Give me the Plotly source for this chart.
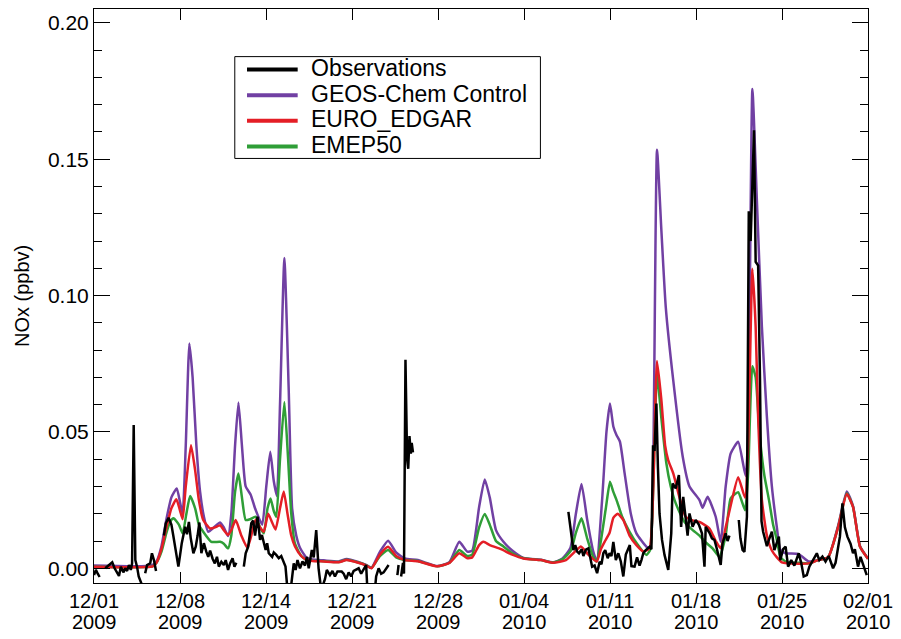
import datetime as dt
import plotly.graph_objects as go

# ---------------- data (day offsets from 2009-12-01 00:00, NOx in ppbv) ----------------
ctrl_days = [0, 4.6, 5.0, 5.4, 5.8, 6.2, 6.63, 6.9, 7.1, 7.35, 7.64, 7.9, 8.2, 8.5, 8.8, 9.15, 9.6, 10.1, 10.4, 10.74,
             11.0, 11.3, 11.57, 11.85, 12.15, 12.55, 12.9, 13.47, 13.8, 14.12, 14.4, 14.65, 14.9, 15.25, 15.6, 15.87,
             16.2, 16.5, 17.0, 17.5, 18.4, 19.6, 20.24, 21.17, 21.8, 22.23, 22.9, 23.56, 24.2, 24.9, 25.94, 27.5,
             28.47, 29.26, 29.9, 30.3, 30.85, 31.3, 31.7, 32.2, 32.8, 33.5, 34.4, 35.8, 36.8, 37.5, 38.15, 38.6,
             39.05, 39.5, 40.0, 40.27, 40.7, 41.05, 41.33, 41.6, 41.86, 42.13, 42.5, 43.0, 43.45, 44.25, 44.55, 44.8,
             45.1, 45.45, 45.8, 46.4, 47.16, 47.7, 48.5, 48.75, 49.15, 49.8, 50.2, 50.6, 51.0, 51.6, 52.2, 52.4,
             52.74, 53.1, 53.5, 53.9, 54.3, 54.7, 54.97, 55.4, 56.45, 57.25, 58.0, 58.8, 59.6, 60.3, 60.8, 61.36, 62.0]
ctrl_vals = [0.0010, 0.0010, 0.0025, 0.008, 0.018, 0.026, 0.0293, 0.024, 0.0200, 0.045, 0.0824, 0.070, 0.045, 0.028,
             0.019, 0.0134, 0.015, 0.0168, 0.015, 0.0118, 0.020, 0.045, 0.0608, 0.045, 0.030, 0.0270, 0.022, 0.0160,
             0.030, 0.0427, 0.032, 0.0265, 0.060, 0.1138, 0.065, 0.022, 0.012, 0.0075, 0.0040, 0.0032, 0.0029, 0.0025,
             0.0034, 0.0023, 0.0012, 0.0002, 0.0060, 0.0101, 0.0058, 0.0036, 0.0030, 0.0008, 0.0022, 0.0097, 0.0061,
             0.0065, 0.0225, 0.0326, 0.026, 0.014, 0.0097, 0.0065, 0.0038, 0.0031, 0.0022, 0.0035, 0.0073, 0.020,
             0.0309, 0.018, 0.006, 0.0026, 0.025, 0.050, 0.0604, 0.052, 0.0488, 0.0464, 0.035, 0.020, 0.0128, 0.0079,
             0.0073, 0.040, 0.1535, 0.1238, 0.0958, 0.0689, 0.0409, 0.0300, 0.0250, 0.0222, 0.0262, 0.0189, 0.0097,
             0.030, 0.0421, 0.0464, 0.0338, 0.050, 0.1758, 0.1348, 0.0886, 0.0556, 0.0300, 0.0150, 0.0068, 0.0055,
             0.0052, 0.0025, 0.0030, 0.0040, 0.0155, 0.0282, 0.0228, 0.0082, 0.0035]

edgar_days = [0, 4.7, 5.0, 5.4, 5.8, 6.2, 6.6, 6.9, 7.1, 7.35, 7.77, 8.1, 8.4, 8.75, 9.3, 9.7, 10.1, 10.4, 10.74, 11.0,
              11.35, 11.8, 12.28, 12.6, 12.94, 13.3, 13.6, 13.95, 14.25, 14.54, 14.9, 15.2, 15.5, 15.8, 16.1, 16.6,
              17.06, 17.5, 18.4, 19.6, 20.24, 21.17, 21.8, 22.23, 22.9, 23.56, 24.2, 24.9, 25.94, 27.5, 28.47, 29.26,
              29.9, 30.3, 30.85, 31.2, 31.7, 32.6, 33.5, 34.4, 35.8, 36.8, 37.8, 38.5, 39.0, 39.6, 40.27, 40.6, 40.9,
              41.3, 41.6, 41.95, 42.4, 42.9, 43.45, 44.0, 44.5, 44.8, 45.1, 45.45, 45.75, 46.0, 46.4, 46.9, 47.4,
              48.0, 48.5, 49.3, 49.8, 50.2, 50.6, 51.0, 51.6, 52.15, 52.4, 52.74, 53.0, 53.2, 53.5, 53.9, 54.3,
              54.7, 55.1, 56.45, 57.25, 58.0, 58.8, 59.6, 60.3, 60.8, 61.36, 62.0]
edgar_vals = [0.0006, 0.0007, 0.002, 0.007, 0.015, 0.022, 0.0253, 0.021, 0.0180, 0.030, 0.0451, 0.036, 0.025, 0.0177,
              0.0146, 0.015, 0.0158, 0.014, 0.0122, 0.014, 0.0177, 0.012, 0.0075, 0.012, 0.0177, 0.015, 0.0134, 0.0200,
              0.017, 0.0142, 0.022, 0.0282, 0.020, 0.012, 0.0080, 0.0045, 0.0030, 0.0027, 0.0025, 0.0022, 0.0030,
              0.0020, 0.0010, 0.0000, 0.0050, 0.0079, 0.0045, 0.0030, 0.0026, 0.0007, 0.0020, 0.0055, 0.0037, 0.0040,
              0.0085, 0.0097, 0.0085, 0.0070, 0.0050, 0.0036, 0.0030, 0.0020, 0.0030, 0.0060, 0.0080, 0.0050, 0.0025,
              0.0070, 0.0097, 0.0130, 0.0185, 0.0200, 0.0177, 0.0120, 0.0085, 0.0062, 0.0073, 0.030, 0.0760, 0.0616,
              0.045, 0.0396, 0.0348, 0.026, 0.0189, 0.0175, 0.0170, 0.0146, 0.0100, 0.0073, 0.015, 0.023, 0.0334,
              0.0259, 0.045, 0.1098, 0.0886, 0.0556, 0.0250, 0.0120, 0.0065, 0.0040, 0.0022, 0.0017, 0.0018, 0.0030,
              0.0040, 0.0150, 0.0272, 0.0225, 0.0079, 0.0035]

emep_days = [0, 4.7, 5.0, 5.4, 5.8, 6.1, 6.37, 6.8, 7.1, 7.4, 7.7, 8.1, 8.4, 8.75, 9.4, 10.1, 10.4, 10.74, 11.0, 11.3,
             11.57, 11.85, 12.15, 12.5, 12.94, 13.3, 13.6, 13.9, 14.14, 14.4, 14.6, 14.9, 15.25, 15.55, 15.8, 16.1,
             16.6, 17.06, 17.5, 18.4, 19.6, 20.24, 21.17, 21.8, 22.23, 22.9, 23.56, 24.2, 24.9, 25.94, 27.5, 28.47,
             29.26, 29.9, 30.3, 30.85, 31.3, 31.7, 32.2, 32.8, 33.5, 34.4, 35.8, 36.8, 37.6, 38.2, 38.6, 39.05, 39.5,
             40.0, 40.27, 40.6, 41.0, 41.33, 41.6, 41.86, 42.3, 42.9, 43.5, 44.25, 44.55, 44.8, 45.1, 45.45, 45.85,
             46.2, 46.6, 47.3, 47.96, 48.5, 49.0, 49.55, 50.1, 50.6, 51.0, 51.6, 52.15, 52.4, 52.74, 53.0, 53.3,
             53.7, 54.07, 54.4, 54.7, 55.0, 55.5, 56.45, 57.25, 58.0, 58.8, 59.6, 60.3, 60.8, 61.36, 62.0]
emep_vals = [0.0006, 0.0007, 0.002, 0.006, 0.013, 0.017, 0.0183, 0.016, 0.0128, 0.020, 0.0265, 0.022, 0.016, 0.0134,
             0.0097, 0.0097, 0.009, 0.0073, 0.012, 0.028, 0.0348, 0.026, 0.0177, 0.018, 0.0189, 0.015, 0.0128, 0.022,
             0.0256, 0.021, 0.0189, 0.040, 0.0610, 0.040, 0.020, 0.0090, 0.0045, 0.0030, 0.0028, 0.0026, 0.0023,
             0.0031, 0.0021, 0.0011, 0.0001, 0.0045, 0.0067, 0.0040, 0.0030, 0.0027, 0.0007, 0.0020, 0.0067, 0.0045,
             0.0050, 0.0150, 0.0199, 0.0160, 0.0100, 0.0080, 0.0055, 0.0037, 0.0030, 0.0021, 0.0035, 0.0065, 0.0130,
             0.0183, 0.0110, 0.0040, 0.0025, 0.010, 0.022, 0.0317, 0.028, 0.0250, 0.019, 0.0134, 0.0090, 0.0049,
             0.0068, 0.030, 0.0714, 0.055, 0.0384, 0.030, 0.0238, 0.017, 0.0140, 0.0120, 0.0095, 0.0073, 0.0042,
             0.012, 0.0256, 0.0279, 0.0213, 0.035, 0.0741, 0.070, 0.050, 0.034, 0.025, 0.016, 0.0104, 0.0040, 0.0022,
             0.0020, 0.0018, 0.0030, 0.0040, 0.0150, 0.0275, 0.0225, 0.0079, 0.0035]

obs_days = [0.0, 0.15, 0.3, 0.45, 0.6, 0.9, 1.1, 1.3, 1.46, 1.65, 1.85, 2.0, 2.15, 2.35, 2.5, 2.65, 2.8, 2.95, 3.05,
            3.18, 3.31, 3.45, 3.58, 3.8, 3.95, 4.1, 4.25, 4.5, 4.64, 4.8, 4.9, 4.97, 5.3, 5.6, 5.75, 5.97, 6.2, 6.35,
            6.5, 6.76, 6.9, 7.03, 7.3, 7.45, 7.6, 7.75, 7.96, 8.15, 8.3, 8.44, 8.6, 8.8, 9.0, 9.15, 9.3, 9.5, 9.68,
            9.85, 10.0, 10.2, 10.4, 10.55, 10.74, 10.9, 11.1, 11.25, 11.4, 11.7, 12.0, 12.15, 12.35, 12.6, 12.75,
            12.9, 13.1, 13.3, 13.45, 13.6, 13.75, 13.87, 14.0, 14.27, 14.4, 14.6, 14.8, 15.0, 15.2, 15.34, 15.5,
            15.75, 16.0, 16.15, 16.3, 16.5, 16.7, 16.9, 17.06, 17.2, 17.45, 17.6, 17.8, 17.99, 18.2, 18.5, 18.65,
            18.9, 19.1, 19.3, 19.5, 19.84, 20.0, 20.2, 20.4, 20.6, 20.8, 21.0, 21.2, 21.4, 21.6, 21.8, 21.9, 22.2,
            22.5, 22.6, 22.8, 23.0, 23.2, 23.4, 23.6, 23.9, 24.3, 24.4, 24.5, 24.6, 24.75, 24.83, 24.95, 25.08,
            25.17, 25.27, 25.38, 25.45, 25.55, 30.0,
            38.0, 38.15, 38.33, 38.4, 38.55, 38.7, 38.85, 39.07, 39.2, 39.4, 39.6, 39.75, 39.9, 40.1, 40.3, 40.5,
            40.65, 40.8, 40.95, 41.15, 41.3, 41.45, 41.6, 41.8, 42.0, 42.2, 42.4, 42.6, 42.92, 43.05, 43.3, 43.5,
            43.7, 43.85, 44.0, 44.2, 44.5, 44.65, 44.78, 44.9, 45.05, 45.17, 45.3, 45.5, 45.7, 46.0, 46.24, 46.35,
            46.6, 46.85, 47.03, 47.2, 47.4, 47.55, 47.7, 47.95, 48.2, 48.45, 48.7, 48.9, 49.0, 49.3, 49.5, 49.7,
            49.9, 50.2, 50.35, 50.6, 50.75, 50.9, 51.3, 51.65, 51.78, 51.95, 52.1, 52.3, 52.45, 52.6, 52.87, 53.0,
            53.2, 53.35, 53.47, 53.6, 53.75, 53.9, 54.06, 54.3, 54.5, 54.86, 54.97, 55.2, 55.4, 55.6, 55.85, 56.1,
            56.45, 56.65, 56.85, 57.1, 57.3, 57.6, 57.9, 58.1, 58.35, 58.6, 58.85, 59.2, 59.4, 59.75, 59.95, 60.15,
            60.35, 60.6, 60.8, 60.95, 61.2, 61.4, 61.6, 61.9]
obs_vals = [-0.0025, -0.0006, -0.002, -0.0032, None, 0.0, 0.0008, 0.0015, 0.0022, 0.0, -0.0015, -0.0028, 0.0006,
            -0.0015, 0.0, -0.001, 0.0012, -0.0006, 0.0018, 0.0525, 0.003, 0.0005, -0.003, -0.0056, None, -0.0018,
            0.0012, 0.0018, 0.0055, 0.003, 0.0012, -0.001, None, 0.012, 0.0165, 0.0185, 0.016, 0.012, 0.0079, 0.0006,
            0.005, 0.0092, 0.0152, 0.0125, 0.017, 0.011, 0.0055, 0.0079, 0.012, 0.0168, 0.0055, 0.0092, 0.006,
            0.0042, 0.0065, 0.0035, 0.0018, 0.0042, 0.0006, 0.0024, 0.0012, 0.003, -0.0006, 0.0018, 0.0037, 0.0006,
            0.002, None, 0.0006, 0.0055, 0.0079, 0.0165, 0.0175, 0.012, 0.0189, 0.0104, 0.0122, 0.0092, 0.0067,
            0.0092, 0.0055, 0.0042, 0.0058, 0.0049, 0.0037, 0.0045, 0.0018, 0.0006, -0.008, -0.008, 0.0018, -0.0006,
            0.003, 0.0, 0.0025, 0.001, 0.0042, 0.0, 0.0067, 0.004, 0.014, 0.0, -0.008, -0.004, -0.0006, -0.0025,
            -0.001, -0.003, -0.0012, -0.0012, -0.002, -0.004, -0.0015, -0.003, -0.001, -0.0006, 0.0, -0.002,
            -0.0005, 0.0012, -0.008, None, -0.008, -0.003, 0.0, -0.002, -0.0015, 0.0, 0.0012, None, -0.0025, 0.0012,
            None, -0.003, 0.002, -0.002, 0.0765, 0.040, 0.0365, 0.0485, 0.042, 0.046, 0.0425, None,
            0.0207, 0.0150, 0.0104, 0.0067, 0.0085, 0.0061, 0.0055, 0.0070, 0.0045, 0.0068, 0.0073, 0.0035, 0.0006,
            0.001, -0.0018, 0.0024, 0.0015, 0.0055, 0.0067, 0.0037, 0.0055, 0.0045, 0.0097, 0.003, 0.0055, 0.0025,
            -0.003, 0.005, 0.0085, 0.0008, 0.0006, 0.004, 0.0010, 0.003, 0.0055, 0.0067, 0.0079, 0.007, 0.0451,
            0.043, 0.0604, 0.0372, 0.020, 0.0104, 0.0049, -0.0006, 0.0128, 0.0311, 0.0293, 0.0342, 0.0152, 0.0262,
            0.0177, 0.0120, 0.0201, 0.0152, 0.0177, 0.0160, 0.0128, 0.0006, 0.0152, 0.0130, 0.0110, 0.0104, 0.0070,
            0.0012, 0.0092, 0.0128, 0.0100, 0.0120, None, 0.0177, 0.0110, 0.0067, 0.0060, 0.0189, 0.1309, 0.120,
            0.1606, 0.1124, 0.111, 0.069, 0.0173, 0.0134, 0.011, 0.0081, 0.0104, 0.0134, 0.0067, 0.0116, 0.003,
            0.0070, 0.0079, 0.0006, 0.0030, 0.0010, 0.0055, 0.0020, -0.003, -0.0025, 0.0006, 0.0030, 0.0055, 0.0030,
            0.0043, 0.0025, 0.0045, 0.0, 0.0020, 0.0116, 0.0238, 0.0150, 0.0116, 0.0090, 0.0055, 0.0070, 0.0006,
            0.0042, 0.0015, -0.0025]

tick_labels = ["12/01", "12/08", "12/14", "12/21", "12/28", "01/04", "01/11", "01/18", "01/25", "02/01"]
tick_years = ["2009", "2009", "2009", "2009", "2009", "2010", "2010", "2010", "2010", "2010"]
series_names = ["Observations", "GEOS-Chem Control", "EURO_EDGAR", "EMEP50"]
series_colors = ["#000000", "#7140A3", "#E41E26", "#2F9E37"]

# ---------------- helpers ----------------
BASE = dt.datetime(2009, 12, 1)


def to_dates(days):
    return [BASE + dt.timedelta(days=d) for d in days]


FONT = "Liberation Sans, Arial, Helvetica, sans-serif"
W, H = 901, 639
L, R, T, B = 94, 28, 8, 56
PW, PH = W - L - R, H - T - B


def px_x(px):
    return (px - L) / PW


def px_y(py):
    return (H - B - py) / PH


fig = go.Figure()
fig.add_trace(go.Scatter(x=to_dates(ctrl_days), y=ctrl_vals, mode="lines", name=series_names[1],
                         line=dict(color=series_colors[1], width=2.5, shape="spline", smoothing=0.5)))
fig.add_trace(go.Scatter(x=to_dates(emep_days), y=emep_vals, mode="lines", name=series_names[3],
                         line=dict(color=series_colors[3], width=2.5, shape="spline", smoothing=0.5)))
fig.add_trace(go.Scatter(x=to_dates(edgar_days), y=edgar_vals, mode="lines", name=series_names[2],
                         line=dict(color=series_colors[2], width=2.5, shape="spline", smoothing=0.5)))
fig.add_trace(go.Scatter(x=to_dates(obs_days), y=obs_vals, mode="lines", name=series_names[0],
                         connectgaps=False, line=dict(color=series_colors[0], width=2.5)))

n_ticks = len(tick_labels)
span = 62.0
tick_days = [k * span / (n_ticks - 1) for k in range(n_ticks)]
tick_dates = to_dates(tick_days)

fig.update_layout(
    width=W, height=H, margin=dict(l=L, r=R, t=T, b=B),
    paper_bgcolor="white", plot_bgcolor="white", showlegend=False,
    font=dict(family=FONT, size=20, color="black"),
    xaxis=dict(type="date", range=[BASE, BASE + dt.timedelta(days=span)],
               tickmode="array", tickvals=tick_dates, ticktext=tick_labels, tickangle=0,
               ticks="inside", ticklen=11, tickwidth=1, tickcolor="black",
               showline=True, linecolor="black", linewidth=1, mirror="ticks",
               showgrid=False, zeroline=False, tickfont=dict(size=20)),
    yaxis=dict(range=[-0.0054, 0.2051], tick0=0, dtick=0.05, tickformat=".2f",
               ticks="inside", ticklen=16, tickwidth=1, tickcolor="black",
               minor=dict(dtick=0.01, tick0=0, ticks="inside", ticklen=8, tickcolor="black", showgrid=False),
               showline=True, linecolor="black", linewidth=1, mirror="ticks",
               showgrid=False, zeroline=False, tickfont=dict(size=21)),
)

annotations = []
for d, yr in zip(tick_dates, tick_years):
    annotations.append(dict(x=d, xref="x", y=px_y(622), yref="paper", text=yr, showarrow=False,
                            xanchor="center", yanchor="middle", font=dict(size=20, family=FONT)))
annotations.append(dict(x=px_x(21), xref="paper", y=px_y(295), yref="paper", text="NOx (ppbv)",
                        textangle=-90, showarrow=False, xanchor="center", yanchor="middle",
                        font=dict(size=20, family=FONT)))

# legend box (drawn manually to mimic the original)
shapes = [dict(type="rect", xref="paper", yref="paper", x0=px_x(235.7), x1=px_x(543.3),
               y0=px_y(157.7), y1=px_y(55.7), line=dict(color="black", width=1), fillcolor="white", layer="above")]
legend_rows = [68.5, 94.3, 120.0, 145.7]
for name, color, ly in zip(series_names, series_colors, legend_rows):
    shapes.append(dict(type="line", xref="paper", yref="paper", x0=px_x(248), x1=px_x(299),
                       y0=px_y(ly), y1=px_y(ly), line=dict(color=color, width=4), layer="above"))
    annotations.append(dict(x=px_x(310), xref="paper", y=px_y(ly - 1.5), yref="paper", text=name,
                            showarrow=False, xanchor="left", yanchor="middle",
                            font=dict(size=23, family=FONT)))

fig.update_layout(shapes=shapes, annotations=annotations)
fig.write_html("out.html")
